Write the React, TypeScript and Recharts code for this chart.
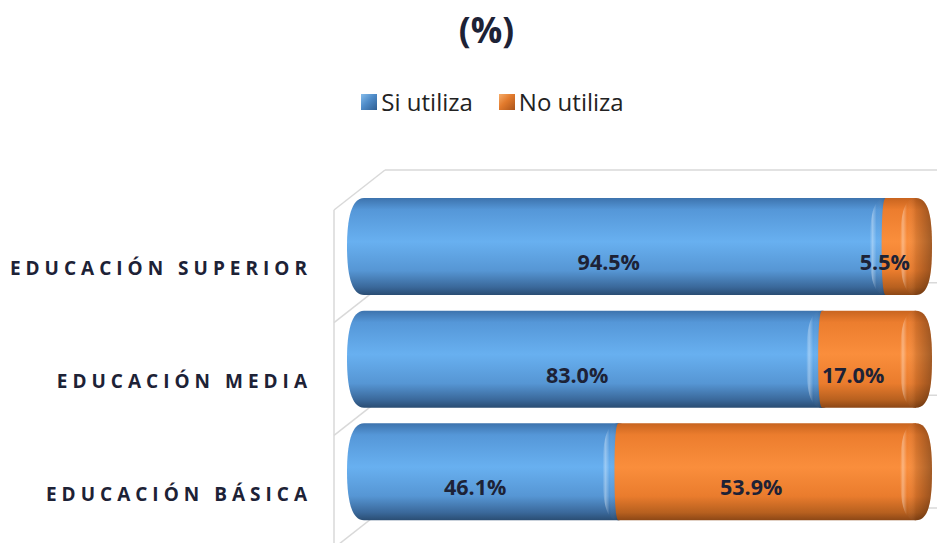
import React from 'react'
import { BarChart, Bar, XAxis, YAxis, CartesianGrid, Legend, LabelList } from 'recharts'

const CATEGORIES = ['EDUCACIÓN SUPERIOR', 'EDUCACIÓN MEDIA', 'EDUCACIÓN BÁSICA']
const SI_UTILIZA = [94.5, 83.0, 46.1]
const NO_UTILIZA = [5.5, 17.0, 53.9]
const SERIES_KEYS = ['si', 'no']
const SERIES_NAMES = ['Si utiliza', 'No utiliza']

const data = CATEGORIES.map((name, i) => ({ name, si: SI_UTILIZA[i], no: NO_UTILIZA[i] }))

const FONT = '"Open Sans", "DejaVu Sans", sans-serif'
const TEXT = '#1d2236'

// 3d depth of the wall, in px
const DEPTH_Y = 20

function CategoryTick(props: any) {
  const { x, y, payload } = props
  const ls = 5
  return (
    <text
      x={x - 57 + ls}
      y={y + 22}
      textAnchor="end"
      dominantBaseline="central"
      fontFamily={FONT}
      fontWeight={700}
      fontSize={19}
      letterSpacing={ls}
      fill={TEXT}
    >
      {payload.value}
    </text>
  )
}

function Wall(p: any) {
  if (p.index !== 0) return <g key={p.key} />
  const left = p.x1
  const right = p.x2
  const top = p.y ?? p.offset?.top
  const h = p.height ?? p.offset?.height
  const bw = h / CATEGORIES.length
  const fx = left - 30
  const bx = left + 21
  const bounds = Array.from({ length: CATEGORIES.length + 1 }, (_, k) => top + k * bw)
  const st = { stroke: '#d9d9d9', strokeWidth: 1.5, fill: 'none' }
  return (
    <g key={p.key}>
      {bounds.map((b, k) => (
        <g key={k}>
          <line x1={bx} y1={b - DEPTH_Y} x2={right + 40} y2={b - DEPTH_Y} {...st} />
          <line x1={fx} y1={b + DEPTH_Y} x2={bx} y2={b - DEPTH_Y} {...st} />
        </g>
      ))}
      <line x1={fx} y1={top + DEPTH_Y} x2={fx} y2={top + h + 60} {...st} />
    </g>
  )
}

function cylinder(gradId: string, first: boolean) {
  return (props: any) => {
    const { x, y, width, height } = props
    if (!width || width <= 0) return <g />
    const h = height
    const x2 = x + width
    const L = first ? 17 : 4
    const R = 16
    const body =
      `M${x},${y} L${x2},${y} L${x2},${y + h} L${x},${y + h} ` +
      `C${x - L * 0.75},${y + h} ${x - L},${y + h * 0.78} ${x - L},${y + h / 2} ` +
      `C${x - L},${y + h * 0.22} ${x - L * 0.75},${y} ${x},${y} Z`
    const face =
      `M${x2},${y} C${x2 + R * 0.8},${y} ${x2 + R},${y + h * 0.2} ${x2 + R},${y + h / 2} ` +
      `C${x2 + R},${y + h * 0.8} ${x2 + R * 0.8},${y + h} ${x2},${y + h} ` +
      `C${x2 - R * 0.8},${y + h} ${x2 - R},${y + h * 0.8} ${x2 - R},${y + h / 2} ` +
      `C${x2 - R},${y + h * 0.2} ${x2 - R * 0.8},${y} ${x2},${y} Z`
    return (
      <g>
        <path d={body} fill={`url(#${gradId})`} />
        <path d={face} fill={`url(#${gradId})`} />
        <path d={face} fill="url(#faceShade)" />
      </g>
    )
  }
}

function ValueLabel(props: any) {
  const { x, y, width, height, value } = props
  return (
    <text
      x={x + width / 2 - 16}
      y={y + height / 2 + 15}
      textAnchor="middle"
      dominantBaseline="central"
      fontFamily={FONT}
      fontWeight={700}
      fontSize={21.5}
      fill={TEXT}
    >
      {`${Number(value).toFixed(1)}%`}
    </text>
  )
}

const ICONS: Record<string, string> = {
  si: 'linear-gradient(135deg, #86bdeb 0%, #4f8cc9 45%, #2e5e92 100%)',
  no: 'linear-gradient(135deg, #f7ad6a 0%, #e27a2c 45%, #a9531a 100%)',
}

function LegendContent(props: any) {
  const items = [...(props.payload || [])].sort(
    (a: any, b: any) => SERIES_KEYS.indexOf(a.dataKey) - SERIES_KEYS.indexOf(b.dataKey)
  )
  return (
    <div style={{ display: 'flex', justifyContent: 'center', paddingLeft: 48, fontFamily: FONT, fontSize: 24, color: '#222' }}>
      {items.map((item: any, i: number) => (
        <div key={i} style={{ display: 'flex', alignItems: 'center', marginRight: i === 0 ? 26 : 0 }}>
          <span style={{ width: 16, height: 16, background: ICONS[item.dataKey], marginRight: 4, display: 'inline-block' }} />
          <span>{item.value}</span>
        </div>
      ))}
    </div>
  )
}

export default function App() {
  return (
    <div style={{ position: 'absolute', left: 0, top: 0, width: 937, height: 543, background: '#fff' }}>
      <div
        style={{
          position: 'absolute',
          top: 8,
          left: 18,
          width: 937,
          textAlign: 'center',
          fontFamily: FONT,
          fontWeight: 700,
          fontSize: 35,
          lineHeight: '44px',
          color: TEXT,
        }}
      >
        (%)
      </div>
      <BarChart
        width={937}
        height={543}
        data={data}
        layout="vertical"
        margin={{ top: 190, right: 21, bottom: 15, left: 0 }}
        barSize={97}
      >
        <defs>
          <linearGradient id="blueBody" x1="0" y1="0" x2="0" y2="1">
            <stop offset="0%" stopColor="#3d73ad" />
            <stop offset="12%" stopColor="#5597d8" />
            <stop offset="45%" stopColor="#68b0f0" />
            <stop offset="75%" stopColor="#5696d4" />
            <stop offset="92%" stopColor="#3a689a" />
            <stop offset="100%" stopColor="#2a4d73" />
          </linearGradient>
          <linearGradient id="orangeBody" x1="0" y1="0" x2="0" y2="1">
            <stop offset="0%" stopColor="#c8641f" />
            <stop offset="12%" stopColor="#ec7d2e" />
            <stop offset="45%" stopColor="#fa8e3c" />
            <stop offset="75%" stopColor="#ea7c2d" />
            <stop offset="92%" stopColor="#b7601f" />
            <stop offset="100%" stopColor="#8c4716" />
          </linearGradient>
          <linearGradient id="faceShade" x1="0" y1="0" x2="1" y2="0">
            <stop offset="0%" stopColor="#fff" stopOpacity={0} />
            <stop offset="9%" stopColor="#fff" stopOpacity={0.35} />
            <stop offset="22%" stopColor="#fff" stopOpacity={0} />
            <stop offset="50%" stopColor="#000" stopOpacity={0.12} />
            <stop offset="100%" stopColor="#000" stopOpacity={0.35} />
          </linearGradient>
        </defs>
        <CartesianGrid vertical={false} horizontal={Wall} />
        <XAxis type="number" domain={[0, 100]} hide />
        <YAxis
          type="category"
          dataKey="name"
          width={364}
          axisLine={false}
          tickLine={false}
          tickSize={0}
          tickMargin={0}
          tick={<CategoryTick />}
        />
        <Legend
          verticalAlign="middle"
          align="center"
          wrapperStyle={{ top: 85, left: 0, width: 937 }}
          content={<LegendContent />}
        />
        <Bar
          dataKey="si"
          name={SERIES_NAMES[0]}
          stackId="a"
          fill="#5b9bd5"
          shape={cylinder('blueBody', true)}
          isAnimationActive={false}
        >
          <LabelList dataKey="si" content={<ValueLabel />} />
        </Bar>
        <Bar
          dataKey="no"
          name={SERIES_NAMES[1]}
          stackId="a"
          fill="#ed7d31"
          shape={cylinder('orangeBody', false)}
          isAnimationActive={false}
        >
          <LabelList dataKey="no" content={<ValueLabel />} />
        </Bar>
      </BarChart>
    </div>
  )
}
